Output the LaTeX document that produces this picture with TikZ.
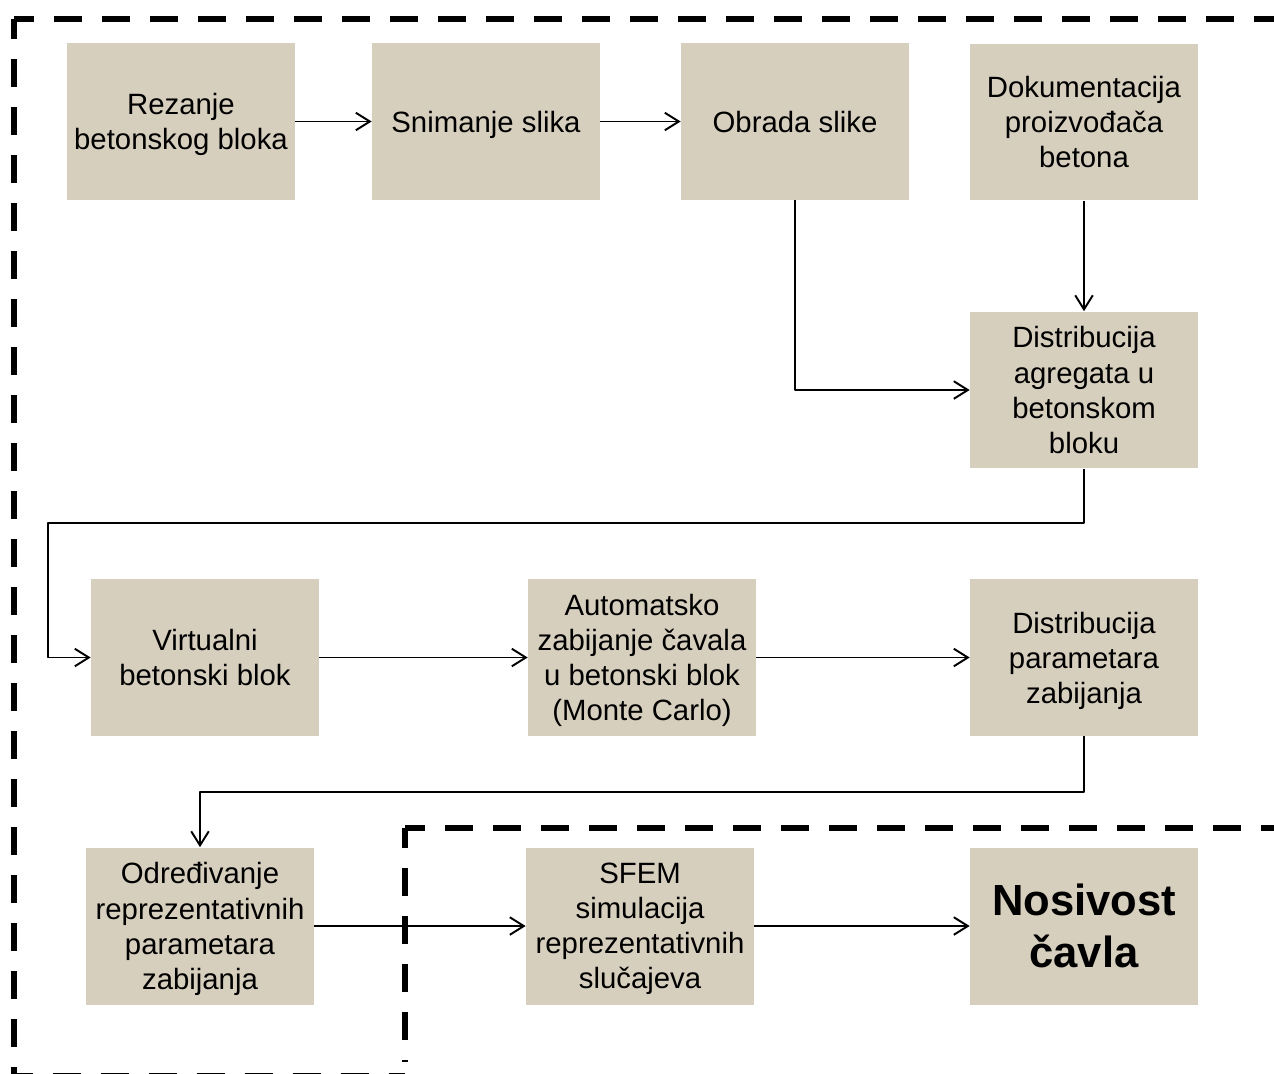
\documentclass[tikz,border=0pt]{standalone}
\usepackage{fontspec}
\setmainfont{Liberation Sans}
\usetikzlibrary{arrows.meta}
\definecolor{beton}{RGB}{215,207,190}
\begin{document}
\begin{tikzpicture}[x=0.02cm, y=-0.02cm, line join=round,
	korak/.style={fill=beton, minimum width=4.56cm, minimum height=3.14cm, inner sep=0pt, text depth=0pt, align=center, font=\fontsize{16.7}{20}\selectfont},
	veza/.style={line width=1.1pt, -{Straight Barb[length=8pt,width=10pt,line width=1.1pt]}},
	okvir/.style={line width=3.4pt, dash pattern=on 0.56cm off 0.4cm, dash phase=0.16cm}]
	\useasboundingbox (0,0) rectangle (1274,1073);
	\clip (0,0) rectangle (1274,1073);
	% granice
	\draw[okvir] (14,19)--(1290,19);
	\draw[okvir] (14,19)--(14,1076)--(405,1076);
	\draw[okvir] (405,828)--(1290,828);
	\draw[okvir] (405,828)--(405,1062);
	% koraci
	\node[korak] (rez) at (181,121.5) {Rezanje\\betonskog bloka};
	\node[korak] (snim) at (486,121.5) {Snimanje slika};
	\node[korak] (obr) at (795,121.5) {Obrada slike};
	\node[korak] (dok) at (1084,122) {Dokumentacija\\proizvođača\\betona};
	\node[korak] (distagr) at (1084,390) {Distribucija\\agregata u\\betonskom\\bloku};
	\node[korak] (virt) at (205,657.5) {Virtualni\\betonski blok};
	\node[korak] (auto) at (642,657.5) {Automatsko\\zabijanje čavala\\u betonski blok\\(Monte Carlo)};
	\node[korak] (distpar) at (1084,657.5) {Distribucija\\parametara\\zabijanja};
	\node[korak] (odr) at (200,926) {Određivanje\\reprezentativnih\\parametara\\zabijanja};
	\node[korak] (sfem) at (640,926) {SFEM\\simulacija\\reprezentativnih\\slučajeva};
	\node[korak, font=\fontsize{24.8}{29.6}\selectfont\bfseries] (nos) at (1084,926) {Nosivost\\čavla};
	% veze
	\draw[veza] (rez)--(snim);
	\draw[veza] (snim)--(obr);
	\draw[veza] (obr.south)|-(distagr.west);
	\draw[veza] (dok)--(distagr);
	\draw[veza] (distagr.south)--(1084,523)-|(48,657.5)--(virt.west);
	\draw[veza] (virt)--(auto);
	\draw[veza] (auto)--(distpar);
	\draw[veza] (distpar.south)--(1084,792)-|(odr.north);
	\draw[veza] (odr)--(sfem);
	\draw[veza] (sfem)--(nos);
\end{tikzpicture}
\end{document}
